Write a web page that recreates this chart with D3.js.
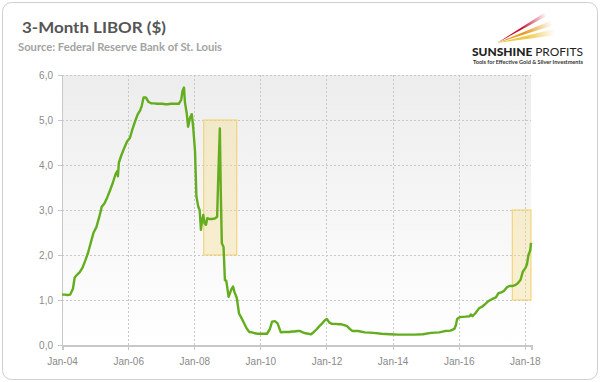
<!DOCTYPE html>
<meta charset="utf-8">
<style>
body { margin: 0; background: #fff; }
svg { display: block; font-family: Lato, "Open Sans", sans-serif; }
.grid line { stroke: #c8c8c8; stroke-dasharray: 2,2; shape-rendering: crispEdges; }
.axis text { fill: #8a8a8a; font-size: 10px; }
.axis path, .axis line { stroke: #c8c8c8; shape-rendering: crispEdges; }
.libor { fill: none; stroke: #63ad1f; stroke-width: 2.4px; stroke-linejoin: round; }
.box { fill: #f5dc90; fill-opacity: 0.4; stroke: #f2cf6a; stroke-width: 1px; }
</style>
<body>
<script src="https://d3js.org/d3.v7.min.js"></script>
<script>

var width = 600,
    height = 382;

// 3-month LIBOR
var dates = [
  "2004-01-01","2004-02-01","2004-03-01","2004-04-01","2004-05-01","2004-05-20","2004-06-15","2004-07-15",
  "2004-08-15","2004-09-15","2004-10-15","2004-11-15","2004-12-15","2005-01-15","2005-02-15","2005-03-15",
  "2005-04-15","2005-05-15","2005-06-15","2005-07-15","2005-08-15","2005-09-01","2005-09-10","2005-09-20",
  "2005-10-15","2005-11-15","2005-12-20","2006-01-20","2006-02-15","2006-03-15","2006-04-15","2006-05-15",
  "2006-06-01","2006-06-20","2006-07-15","2006-08-15","2006-09-15","2006-10-15","2006-11-15","2006-12-15",
  "2007-01-15","2007-02-15","2007-03-15","2007-04-15","2007-05-15","2007-06-15","2007-07-15","2007-08-10",
  "2007-08-25","2007-09-10","2007-09-20","2007-10-10","2007-10-25","2007-11-15","2007-12-05","2007-12-20",
  "2008-01-10","2008-01-25","2008-02-15","2008-03-01","2008-03-15","2008-03-25","2008-04-10","2008-04-25",
  "2008-05-10","2008-05-25","2008-06-15","2008-07-15","2008-08-15","2008-09-10","2008-09-25","2008-10-10",
  "2008-10-20","2008-11-01","2008-11-20","2008-12-05","2008-12-20","2009-01-15","2009-02-15","2009-03-05",
  "2009-03-20","2009-04-15","2009-05-10","2009-06-01","2009-07-01","2009-08-01","2009-09-01","2009-10-01",
  "2009-11-01","2009-12-01","2010-01-01","2010-02-01","2010-03-15","2010-04-15","2010-05-10","2010-06-10",
  "2010-07-10","2010-08-15","2010-09-15","2010-10-15","2010-11-15","2010-12-15","2011-01-15","2011-02-15",
  "2011-03-15","2011-04-15","2011-05-15","2011-06-15","2011-07-15","2011-08-15","2011-09-15","2011-10-15",
  "2011-11-15","2011-12-15","2012-01-05","2012-02-01","2012-03-01","2012-04-15","2012-05-15","2012-06-15",
  "2012-07-15","2012-08-15","2012-09-15","2012-10-15","2012-11-15","2012-12-15","2013-03-01","2013-06-01",
  "2013-09-01","2013-12-01","2014-03-01","2014-06-01","2014-09-01","2014-12-01","2015-03-01","2015-06-01",
  "2015-08-01","2015-10-01","2015-11-15","2015-12-01","2015-12-15","2016-01-15","2016-03-15","2016-05-01",
  "2016-05-15","2016-06-01","2016-07-01","2016-08-15","2016-09-15","2016-10-15","2016-11-15","2016-12-15",
  "2017-01-15","2017-02-15","2017-03-15","2017-04-15","2017-05-15","2017-06-15","2017-07-15","2017-08-15",
  "2017-09-15","2017-10-15","2017-11-15","2017-12-10","2018-01-10","2018-01-25","2018-02-10","2018-03-01",
  "2018-03-10"
];
var libor = [
  1.12,1.12,1.11,1.12,1.25,1.50,1.56,1.62,
  1.72,1.88,2.05,2.28,2.50,2.62,2.84,3.07,
  3.15,3.28,3.44,3.60,3.80,3.86,3.75,4.05,
  4.20,4.36,4.52,4.60,4.78,4.95,5.12,5.22,
  5.32,5.50,5.50,5.40,5.37,5.37,5.36,5.36,
  5.36,5.35,5.35,5.36,5.36,5.36,5.36,5.45,
  5.65,5.72,5.40,5.15,4.85,5.05,5.13,4.85,
  4.30,3.30,3.07,3.00,2.56,2.72,2.89,2.70,
  2.67,2.82,2.80,2.80,2.81,2.85,3.90,4.81,
  3.44,2.26,2.18,1.44,1.43,1.07,1.24,1.30,
  1.18,1.05,0.70,0.62,0.50,0.37,0.29,0.28,
  0.26,0.25,0.25,0.25,0.25,0.35,0.52,0.53,
  0.48,0.28,0.29,0.29,0.29,0.30,0.30,0.31,
  0.31,0.28,0.26,0.25,0.24,0.29,0.35,0.42,
  0.48,0.55,0.58,0.50,0.47,0.47,0.46,0.46,
  0.44,0.42,0.36,0.31,0.31,0.31,0.28,0.27,
  0.25,0.24,0.23,0.23,0.23,0.24,0.27,0.28,
  0.31,0.32,0.36,0.44,0.58,0.62,0.63,0.64,
  0.68,0.64,0.70,0.82,0.85,0.90,0.96,1.00,
  1.03,1.06,1.15,1.17,1.20,1.28,1.31,1.31,
  1.33,1.37,1.45,1.63,1.72,1.80,2.00,2.10,
  2.27
];

// highlighted periods
var boxStart = ["2008-04-15", "2017-08-15"];
var boxEnd = ["2009-04-15", "2018-03-10"];
var boxLow = [2, 1];
var boxHigh = [5, 3];

var yTicks = [0, 1, 2, 3, 4, 5, 6];

var parse = d3.timeParse("%Y-%m-%d");
var data = dates.map(function(d, i) { return { date: parse(d), value: libor[i] }; });

var x = d3.scaleTime()
    .domain([parse("2004-01-01"), parse("2018-03-10")])
    .range([62, 531]);

var y = d3.scaleLinear()
    .domain([0, 6])
    .range([345, 75]);

var svg = d3.select("body").append("svg")
    .attr("width", width)
    .attr("height", height);

var defs = svg.append("defs");

var bg = defs.append("linearGradient")
    .attr("id", "plotbg")
    .attr("x1", 0).attr("y1", 0).attr("x2", 0).attr("y2", 1);
bg.append("stop").attr("offset", "0%").attr("stop-color", "#ededed");
bg.append("stop").attr("offset", "100%").attr("stop-color", "#ffffff");

// card frame
svg.append("rect")
    .attr("x", 2.5).attr("y", 2.5)
    .attr("width", width - 5).attr("height", height - 5)
    .attr("rx", 9)
    .attr("fill", "#fff")
    .attr("stroke", "#cfcfcf");

// titles
svg.append("text")
    .attr("x", 22).attr("y", 33)
    .attr("fill", "#555")
    .attr("textLength", 144)
    .attr("lengthAdjust", "spacingAndGlyphs")
    .style("font-size", "16px")
    .style("font-weight", "bold")
    .text("3-Month LIBOR ($)");

svg.append("text")
    .attr("x", 18).attr("y", 51)
    .attr("fill", "#a3a3a3")
    .attr("textLength", 204)
    .attr("lengthAdjust", "spacingAndGlyphs")
    .style("font-size", "10.5px")
    .style("font-weight", "bold")
    .text("Source: Federal Reserve Bank of St. Louis");

// logo
var streaks = [
  { color: "#c8102e", tip: [546, 14], w: 2.2 },
  { color: "#e89a1e", tip: [552, 23], w: 2.8 },
  { color: "#f0c84a", tip: [555, 32], w: 3.2 }
];
streaks.forEach(function(s, i) {
  var g = defs.append("linearGradient")
      .attr("id", "streak" + i)
      .attr("gradientUnits", "userSpaceOnUse")
      .attr("x1", 497).attr("y1", 42).attr("x2", s.tip[0]).attr("y2", s.tip[1]);
  g.append("stop").attr("offset", "0%").attr("stop-color", s.color);
  g.append("stop").attr("offset", "50%").attr("stop-color", s.color);
  g.append("stop").attr("offset", "100%").attr("stop-color", s.color).attr("stop-opacity", 0);
  svg.append("path")
      .attr("d", "M497,43 L" + s.tip[0] + "," + (s.tip[1] - s.w) + " L" + s.tip[0] + "," + (s.tip[1] + s.w) + " Z")
      .attr("fill", "url(#streak" + i + ")");
});

var logo = svg.append("text")
    .attr("x", 472).attr("y", 56)
    .attr("fill", "#222")
    .attr("textLength", 111)
    .attr("lengthAdjust", "spacingAndGlyphs")
    .style("font-size", "10.5px");
logo.append("tspan").style("font-weight", "900").text("SUNSHINE ");
logo.append("tspan").text("PROFITS");

svg.append("text")
    .attr("x", 473).attr("y", 63.5)
    .attr("fill", "#333")
    .attr("textLength", 110)
    .attr("lengthAdjust", "spacingAndGlyphs")
    .style("font-size", "5px")
    .style("font-weight", "bold")
    .text("Tools for Effective Gold & Silver Investments");

// plot background
svg.append("rect")
    .attr("x", x.range()[0]).attr("y", y(6))
    .attr("width", x.range()[1] - x.range()[0])
    .attr("height", y(0) - y(6))
    .attr("fill", "url(#plotbg)");

var xTicks = d3.timeYear.every(2).range(parse("2004-01-01"), parse("2018-03-01"));

// grid
var grid = svg.append("g").attr("class", "grid");
grid.selectAll(".h")
    .data(yTicks.slice(1))
  .enter().append("line")
    .attr("x1", x.range()[0]).attr("x2", x.range()[1])
    .attr("y1", function(d) { return Math.round(y(d)) + 0.5; })
    .attr("y2", function(d) { return Math.round(y(d)) + 0.5; });
grid.selectAll(".v")
    .data(xTicks.slice(1))
  .enter().append("line")
    .attr("x1", function(d) { return Math.round(x(d)) + 0.5; })
    .attr("x2", function(d) { return Math.round(x(d)) + 0.5; })
    .attr("y1", y(6)).attr("y2", y(0));

// highlight boxes
svg.selectAll(".box")
    .data(boxStart)
  .enter().append("rect")
    .attr("class", "box")
    .attr("x", function(d) { return x(parse(d)); })
    .attr("width", function(d, i) { return x(parse(boxEnd[i])) - x(parse(d)); })
    .attr("y", function(d, i) { return y(boxHigh[i]); })
    .attr("height", function(d, i) { return y(boxLow[i]) - y(boxHigh[i]); });

// axes
svg.append("g")
    .attr("class", "axis")
    .attr("transform", "translate(62,0)")
    .call(d3.axisLeft(y)
      .tickValues(yTicks)
      .tickSize(4)
      .tickPadding(5)
      .tickFormat(function(d) { return d3.format(".1f")(d).replace(".", ","); }));

var xAxis = svg.append("g")
    .attr("class", "axis")
    .attr("transform", "translate(0,345)")
    .call(d3.axisBottom(x)
      .tickValues(xTicks)
      .tickSize(5)
      .tickPadding(8)
      .tickFormat(d3.timeFormat("Jan-%y")));
xAxis.select(".domain")
    .attr("stroke", "#dcdcdc")
    .attr("stroke-width", 2);

// line
var line = d3.line()
    .x(function(d) { return x(d.date); })
    .y(function(d) { return y(d.value); });

svg.append("path")
    .datum(data)
    .attr("class", "libor")
    .attr("d", line);

</script>
